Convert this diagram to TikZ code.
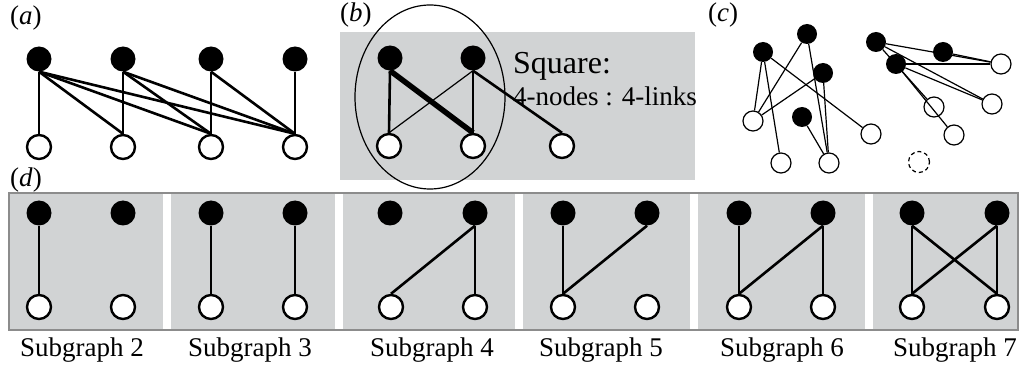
\documentclass[tikz,border=0pt]{standalone}
\usepackage{fontspec}
\setmainfont{Liberation Serif}
\usetikzlibrary{shapes.geometric}
\definecolor{panelgray}{RGB}{209,211,212}
\definecolor{framegray}{RGB}{140,140,140}
\tikzset{
  blk/.style={circle,fill=black,inner sep=0pt,minimum size=25pt},
  wht/.style={circle,draw=black,fill=white,line width=2.4pt,inner sep=0pt,minimum size=24pt},
  blks/.style={circle,fill=black,inner sep=0pt,minimum size=20pt},
  whts/.style={circle,draw=black,fill=white,line width=1.2pt,inner sep=0pt,minimum size=20pt},
  ghost/.style={circle,draw=black,dash pattern=on 4pt off 3pt,line width=1.2pt,inner sep=0pt,minimum size=21pt},
  link/.style={line width=2.6pt},
  fatlink/.style={line width=5.5pt},
  finelink/.style={line width=1.2pt},
  lab/.style={inner sep=0pt,font=\fontsize{27}{32}\selectfont},
}
\begin{document}
\begin{tikzpicture}[x=1pt,y=-1pt]
        \useasboundingbox (0,0) rectangle (1020,366);
        % (a)
        \node[lab,anchor=base west] (la) at (10,25) {(\textit{a})};
        \node[blk] (ta1) at (39,59) {};
        \node[blk] (ta2) at (123,59) {};
        \node[blk] (ta3) at (211,59) {};
        \node[blk] (ta4) at (295,59) {};
        \node[wht] (ba1) at (39,147) {};
        \node[wht] (ba2) at (123,147) {};
        \node[wht] (ba3) at (211,147) {};
        \node[wht] (ba4) at (295,147) {};
        \draw[link] (ta1.south) -- (ba1.north);
        \draw[link] (ta1.south) -- (ba2.north);
        \draw[link] (ta1.south) -- (ba3.north);
        \draw[link] (ta1.south) -- (ba4.north);
        \draw[link] (ta2.south) -- (ba2.north);
        \draw[link] (ta2.south) -- (ba3.north);
        \draw[link] (ta2.south) -- (ba4.north);
        \draw[link] (ta3.south) -- (ba3.north);
        \draw[link] (ta3.south) -- (ba4.north);
        \draw[link] (ta4.south) -- (ba4.north);
        % (b)
        \node[lab,anchor=base west] (lb) at (340,22) {(\textit{b})};
        \fill[panelgray] (340,32) rectangle (695,180);
        \draw[finelink] (430,97) ellipse (75 and 92);
        \node[blk] (tb1) at (390,58) {};
        \node[blk] (tb2) at (473,58) {};
        \node[wht] (bb1) at (389,146) {};
        \node[wht] (bb2) at (473,146) {};
        \node[wht] (bb3) at (562,146) {};
        \draw[link] (tb1.south) -- (bb1.north);
        \draw[fatlink] (tb1.south) -- (bb2.north);
        \draw[finelink] (tb2.south) -- (bb1.north);
        \draw[link] (tb2.south) -- (bb2.north);
        \draw[link] (tb2.south) -- (bb3.north);
        \node[anchor=base west,inner sep=0pt,font=\fontsize{32}{38}\selectfont] (sqname) at (513,74) {Square:};
        \node[lab,anchor=base west] (sqcount) at (513,106) {4-nodes : 4-links};
        % (c)
        \node[lab,anchor=base west] (lc) at (708,22) {(\textit{c})};
        \node[blks] (c1) at (763,52) {};
        \node[blks] (c2) at (807,34) {};
        \node[blks] (c3) at (823,73) {};
        \node[blks] (c4) at (802,117) {};
        \node[blks] (c5) at (876,42) {};
        \node[blks] (c6) at (943,52) {};
        \node[blks] (c7) at (896,64) {};
        \node[whts] (w1) at (753,121) {};
        \node[whts] (w2) at (781,163) {};
        \node[whts] (w3) at (829,163) {};
        \node[whts] (w4) at (871,134) {};
        \node[whts] (w5) at (1001,64) {};
        \node[whts] (w6) at (934,107) {};
        \node[whts] (w7) at (992,104) {};
        \node[whts] (w8) at (954,135) {};
        \node[ghost] (w9) at (919,162) {};
        \draw[finelink] (c1) -- (w1);
        \draw[finelink] (c1) -- (w2);
        \draw[finelink] (c1) -- (w4);
        \draw[finelink] (c2) -- (w1);
        \draw[finelink] (c2) -- (w3);
        \draw[finelink] (c3) -- (w1);
        \draw[finelink] (c3) -- (w3);
        \draw[finelink] (c4) -- (w3);
        \draw[finelink] (c5) -- (w5);
        \draw[finelink] (c6) -- (w5);
        \draw[finelink] (c7) -- (w5);
        \draw[finelink] (c5) -- (w7);
        \draw[finelink] (c7) -- (w7);
        \draw[finelink] (c5) -- (w6);
        \draw[finelink] (c7) -- (w8);
        % (d)
        \node[lab,anchor=base west] (ld) at (10,187) {(\textit{d})};
        \fill[panelgray] (9,193) rectangle (1018,330);
        \fill[white] (163,193) rectangle (171,330);
        \fill[white] (335,193) rectangle (343,330);
        \fill[white] (515,193) rectangle (523,330);
        \fill[white] (690,193) rectangle (698,330);
        \fill[white] (865,193) rectangle (873,330);
        \draw[framegray,line width=2.5pt] (9,193) rectangle (1018,330);
        \node[blk] (s2t1) at (39,213) {};
        \node[blk] (s2t2) at (123,213) {};
        \node[wht] (s2b1) at (39,307) {};
        \node[wht] (s2b2) at (123,307) {};
        \draw[link] (s2t1.south) -- (s2b1.north);
        \node[blk] (s3t1) at (211,213) {};
        \node[blk] (s3t2) at (295,213) {};
        \node[wht] (s3b1) at (211,307) {};
        \node[wht] (s3b2) at (295,307) {};
        \draw[link] (s3t1.south) -- (s3b1.north);
        \draw[link] (s3t2.south) -- (s3b2.north);
        \node[blk] (s4t1) at (390,213) {};
        \node[blk] (s4t2) at (475,213) {};
        \node[wht] (s4b1) at (391,307) {};
        \node[wht] (s4b2) at (475,307) {};
        \draw[link] (s4t2.south) -- (s4b1.north);
        \draw[link] (s4t2.south) -- (s4b2.north);
        \node[blk] (s5t1) at (563,213) {};
        \node[blk] (s5t2) at (647,213) {};
        \node[wht] (s5b1) at (563,307) {};
        \node[wht] (s5b2) at (647,307) {};
        \draw[link] (s5t1.south) -- (s5b1.north);
        \draw[link] (s5t2.south) -- (s5b1.north);
        \node[blk] (s6t1) at (739,213) {};
        \node[blk] (s6t2) at (823,213) {};
        \node[wht] (s6b1) at (739,307) {};
        \node[wht] (s6b2) at (823,307) {};
        \draw[link] (s6t1.south) -- (s6b1.north);
        \draw[link] (s6t2.south) -- (s6b1.north);
        \draw[link] (s6t2.south) -- (s6b2.north);
        \node[blk] (s7t1) at (912,213) {};
        \node[blk] (s7t2) at (997,213) {};
        \node[wht] (s7b1) at (912,307) {};
        \node[wht] (s7b2) at (997,307) {};
        \draw[link] (s7t1.south) -- (s7b1.north);
        \draw[link] (s7t1.south) -- (s7b2.north);
        \draw[link] (s7t2.south) -- (s7b1.north);
        \draw[link] (s7t2.south) -- (s7b2.north);
        \node[lab,anchor=base] (n2) at (82,356) {Subgraph 2};
        \node[lab,anchor=base] (n3) at (250,356) {Subgraph 3};
        \node[lab,anchor=base] (n4) at (432,356) {Subgraph 4};
        \node[lab,anchor=base] (n5) at (601,356) {Subgraph 5};
        \node[lab,anchor=base] (n6) at (782,356) {Subgraph 6};
        \node[lab,anchor=base] (n7) at (955,356) {Subgraph 7};
    \end{tikzpicture}
\end{document}
